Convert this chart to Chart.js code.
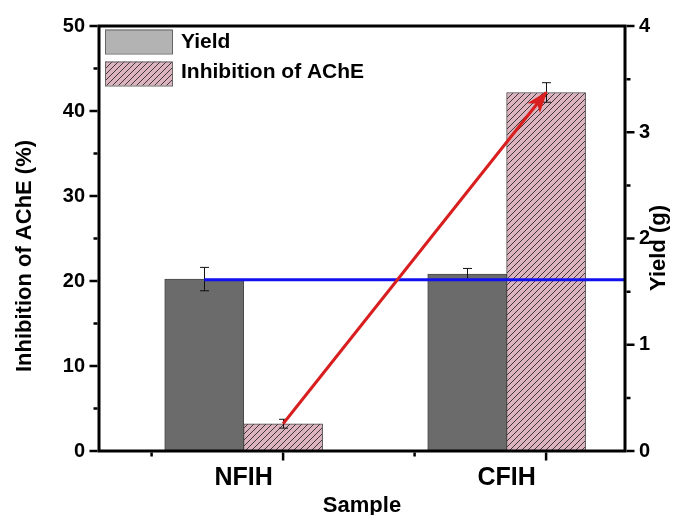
<!DOCTYPE html>
<html><head><meta charset="utf-8">
<script src="https://cdn.jsdelivr.net/npm/chart.js@4/dist/chart.umd.min.js"></script>
<style>html,body{margin:0;padding:0;background:#fff;} #wrap{width:674px;height:515px;position:relative;}</style>
</head><body><div id="wrap"><canvas id="c" width="674" height="515"></canvas></div>
<script>
// ---- data ----
const categories = ['NFIH', 'CFIH'];
const seriesNames = ['Yield', 'Inhibition of AChE'];
const yieldValues = [1.618, 1.664];        // g (right axis)
const yieldErrors = [0.11, 0.054];
const inhibitionValues = [3.21, 42.18];    // % (left axis)
const inhibitionErrors = [0.52, 1.15];
const referenceYield = [1.612, 1.612];     // blue reference line (g)
const leftTickValues = [0, 10, 20, 30, 40, 50];
const rightTickValues = [0, 1, 2, 3, 4];
const axisTitles = { x: 'Sample', y: 'Inhibition of AChE (%)', y2: 'Yield (g)' };

const FONT = "'Liberation Sans', Arial, sans-serif";

// hatch pattern for inhibition bars
function makeHatch() {
  const c = document.createElement('canvas');
  c.width = 6; c.height = 6;
  const g = c.getContext('2d');
  g.fillStyle = '#dcb3be';
  g.fillRect(0, 0, 6, 6);
  g.strokeStyle = '#2a2a2a';
  g.lineWidth = 0.9;
  g.beginPath();
  g.moveTo(0, 6); g.lineTo(6, 0);
  g.moveTo(-1, 1); g.lineTo(1, -1);
  g.moveTo(5, 7); g.lineTo(7, 5);
  g.stroke();
  return document.createElement('canvas').getContext('2d').createPattern(c, 'repeat');
}
const hatch = makeHatch();

const BAR_OFFSET = 0.15;

const overlay = {
  id: 'overlay',
  afterDatasetDraw(chart, args) {
    const ctx = chart.ctx;
    const ds = chart.data.datasets[args.index];
    if (ds.errors) {
      const ys = chart.scales[ds.yAxisID];
      ctx.save();
      ctx.strokeStyle = '#111';
      ctx.lineWidth = 1;
      args.meta.data.forEach((bar, i) => {
        const v = ds.data[i].y, e = ds.errors[i];
        const x = Math.round(bar.x) + 0.5;
        const t = ys.getPixelForValue(v + e), b = ys.getPixelForValue(v - e);
        ctx.beginPath();
        ctx.moveTo(x, t); ctx.lineTo(x, b);
        ctx.moveTo(x - 4.5, t); ctx.lineTo(x + 4.5, t);
        ctx.moveTo(x - 4.5, b); ctx.lineTo(x + 4.5, b);
        ctx.stroke();
      });
      ctx.restore();
    }
    if (ds.arrow) {
      const pts = args.meta.data;
      const p0 = pts[pts.length - 2], p1 = pts[pts.length - 1];
      const ang = Math.atan2(p1.y - p0.y, p1.x - p0.x);
      const L = 22, W = 8;
      const tx = p1.x + 2 * Math.cos(ang), ty = p1.y + 2 * Math.sin(ang);
      ctx.save();
      ctx.fillStyle = ds.borderColor;
      ctx.beginPath();
      ctx.moveTo(tx, ty);
      ctx.lineTo(tx - L * Math.cos(ang) + W * Math.sin(ang), ty - L * Math.sin(ang) - W * Math.cos(ang));
      ctx.lineTo(tx - L * 0.75 * Math.cos(ang), ty - L * 0.75 * Math.sin(ang));
      ctx.lineTo(tx - L * Math.cos(ang) - W * Math.sin(ang), ty - L * Math.sin(ang) + W * Math.cos(ang));
      ctx.closePath();
      ctx.fill();
      ctx.restore();
    }
  },
  afterDraw(chart) {
    const ctx = chart.ctx;
    const a = chart.chartArea;
    const sy = chart.scales.y, sy2 = chart.scales.y2, sx = chart.scales.x;
    ctx.save();
    // frame
    ctx.strokeStyle = '#000';
    ctx.lineWidth = 3;
    ctx.strokeRect(a.left, a.top, a.right - a.left, a.bottom - a.top);
    ctx.lineWidth = 2.5;
    ctx.beginPath();
    // left ticks
    for (let v = sy.min; v <= sy.max + 1e-9; v += 5) {
      const y = sy.getPixelForValue(v);
      const len = (Math.abs(v % 10) < 1e-9) ? 8 : 4;
      ctx.moveTo(a.left - 1.5, y); ctx.lineTo(a.left - 1.5 - len, y);
    }
    // right ticks
    for (let v = sy2.min; v <= sy2.max + 1e-9; v += 0.5) {
      const y = sy2.getPixelForValue(v);
      const len = (Math.abs(v % 1) < 1e-9) ? 8 : 4;
      ctx.moveTo(a.right + 1.5, y); ctx.lineTo(a.right + 1.5 + len, y);
    }
    // bottom ticks
    categories.forEach((c, i) => {
      const xm = sx.getPixelForValue(i + 1 + BAR_OFFSET);
      ctx.moveTo(xm, a.bottom + 1.5); ctx.lineTo(xm, a.bottom + 1.5 + 8);
      const xn = sx.getPixelForValue(i + 1 + BAR_OFFSET - 0.5);
      ctx.moveTo(xn, a.bottom + 1.5); ctx.lineTo(xn, a.bottom + 1.5 + 4);
    });
    ctx.stroke();

    // axis titles
    ctx.fillStyle = '#000';
    ctx.font = 'bold 22px ' + FONT;
    ctx.textAlign = 'center';
    ctx.textBaseline = 'middle';
    ctx.fillText(axisTitles.x, (a.left + a.right) / 2, 506);
    ctx.save();
    ctx.translate(25, 256); ctx.rotate(-Math.PI / 2);
    ctx.fillText(axisTitles.y, 0, 0);
    ctx.restore();
    ctx.save();
    ctx.translate(659, 248); ctx.rotate(-Math.PI / 2);
    ctx.fillText(axisTitles.y2, 0, 0);
    ctx.restore();

    // legend
    const items = [
      { fill: '#b3b3b3', text: seriesNames[0], by: 29.5, ty: 42 },
      { fill: hatch, text: seriesNames[1], by: 61.5, ty: 72 }
    ];
    ctx.font = 'bold 21px ' + FONT;
    ctx.textAlign = 'left';
    items.forEach(it => {
      ctx.fillStyle = it.fill;
      ctx.fillRect(105, it.by, 67, 24);
      ctx.strokeStyle = '#666';
      ctx.lineWidth = 1;
      ctx.strokeRect(105.5, it.by + 0.5, 67, 24);
      ctx.fillStyle = '#000';
      ctx.fillText(it.text, 181, it.ty);
    });
    ctx.restore();
  }
};

const ctx = document.getElementById('c').getContext('2d');
new Chart(ctx, {
  type: 'bar',
  data: {
    datasets: [
      {
        type: 'bar', label: seriesNames[0], yAxisID: 'y2',
        data: categories.map((c, i) => ({ x: i + 1 - BAR_OFFSET, y: yieldValues[i] })),
        errors: yieldErrors,
        backgroundColor: '#6b6b6b', borderColor: '#4a4a4a', borderWidth: 1,
        barThickness: 79, grouped: false, order: 3
      },
      {
        type: 'bar', label: seriesNames[1], yAxisID: 'y',
        data: categories.map((c, i) => ({ x: i + 1 + BAR_OFFSET, y: inhibitionValues[i] })),
        errors: inhibitionErrors,
        backgroundColor: hatch, borderColor: '#4a4a4a', borderWidth: 1,
        barThickness: 79, grouped: false, order: 2
      },
      {
        type: 'line', label: 'ref', yAxisID: 'y2',
        data: [{ x: 1 - BAR_OFFSET, y: referenceYield[0] }, { x: 2.45, y: referenceYield[1] }],
        borderColor: '#1010f0', borderWidth: 3, pointRadius: 0, fill: false, order: 1
      },
      {
        type: 'line', label: 'trend', yAxisID: 'y', arrow: true,
        data: categories.map((c, i) => ({ x: i + 1 + BAR_OFFSET, y: inhibitionValues[i] })),
        borderColor: '#d81e1e', borderWidth: 3, pointRadius: 0, fill: false, order: 0
      }
    ]
  },
  options: {
    responsive: false,
    animation: false,
    devicePixelRatio: 1,
    layout: { padding: { top: 22, left: 0, right: 0, bottom: 0 } },
    plugins: { legend: { display: false }, tooltip: { enabled: false } },
    scales: {
      x: {
        type: 'linear', min: 0.45, max: 2.45, offset: false,
        grid: { display: false, drawTicks: false }, border: { display: false },
        afterBuildTicks: s => { s.ticks = categories.map((c, i) => ({ value: i + 1 })); },
        afterFit: s => { s.height = 64; },
        ticks: {
          autoSkip: false, maxRotation: 0, padding: 12, color: '#000',
          font: { family: FONT, size: 25, weight: 'bold' },
          callback: v => categories[Math.round(v) - 1] ?? ''
        }
      },
      y: {
        type: 'linear', position: 'left', min: 0, max: 50,
        grid: { display: false, drawTicks: false }, border: { display: false },
        afterBuildTicks: s => { s.ticks = leftTickValues.map(v => ({ value: v })); },
        afterFit: s => { s.width = 99; },
        ticks: { padding: 14, color: '#000', font: { family: FONT, size: 20, weight: 'bold' } }
      },
      y2: {
        type: 'linear', position: 'right', min: 0, max: 4,
        grid: { display: false, drawTicks: false }, border: { display: false },
        afterBuildTicks: s => { s.ticks = rightTickValues.map(v => ({ value: v })); },
        afterFit: s => { s.width = 49; },
        ticks: { padding: 14, color: '#000', font: { family: FONT, size: 20, weight: 'bold' } }
      }
    }
  },
  plugins: [overlay]
});
</script>
</body></html>
